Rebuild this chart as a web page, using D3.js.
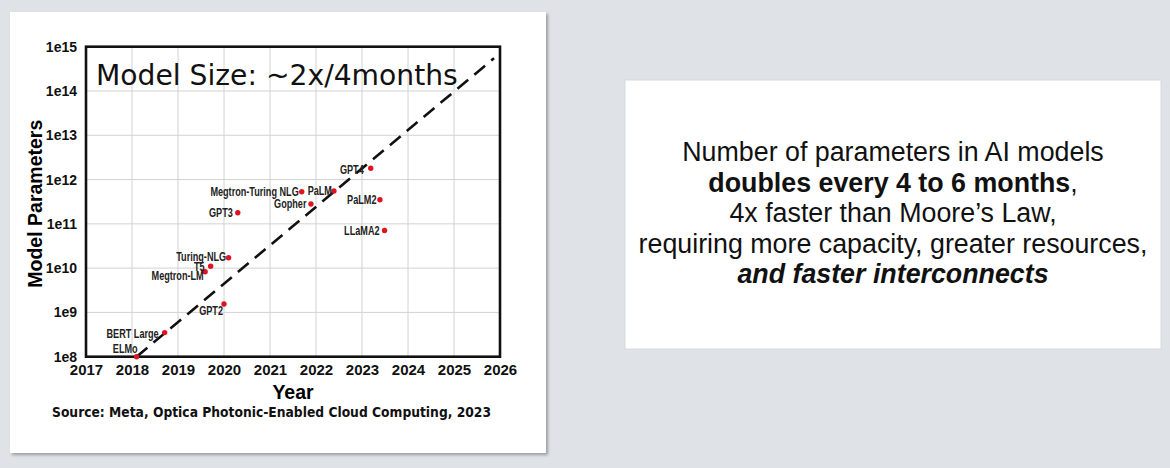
<!DOCTYPE html>
<html lang="en">
<head>
    <meta charset="UTF-8">
    <title>Model Size</title>
    <style>
        body { margin: 0; background: #dfe2e6; }
        svg { display: block; }
        .grid line { stroke: #d2d2d2; stroke-width: 1px; }
        .axis text { font-family: "Liberation Sans", Arial, sans-serif; font-weight: bold; fill: #111; }
        .axis path, .axis line { display: none; }
        .pt-label { font-family: "Liberation Sans", Arial, sans-serif; font-weight: bold; font-size: 12px; fill: #222; text-anchor: end; }
        .blurb { font-family: "Liberation Sans", Arial, sans-serif; font-size: 26.8px; fill: #111; text-anchor: middle; }
    </style>
</head>
<body>
    <script src="https://d3js.org/d3.v7.min.js"></script>
    <script>
        // data
        const models = ["ELMo", "BERT Large", "GPT2", "Megtron-LM", "T5", "Turing-NLG", "GPT3",
            "Megtron-Turing NLG", "Gopher", "PaLM", "GPT4", "PaLM2", "LLaMA2"];
        const releaseYear = [2018.10, 2018.71, 2020.0, 2019.59, 2019.71, 2020.1, 2020.3,
            2021.69, 2021.89, 2022.39, 2023.19, 2023.39, 2023.49];
        const paramCount = [1e8, 3.5e8, 1.55e9, 8.3e9, 1.1e10, 1.72e10, 1.78e11,
            5.3e11, 2.8e11, 5.5e11, 1.8e12, 3.5e11, 7.1e10];
        const trendYear = [2018.1, 2025.87];
        const trendParams = [1e8, 5.5e14];
        const yearTicks = [2017, 2018, 2019, 2020, 2021, 2022, 2023, 2024, 2025, 2026];
        const paramTicks = [1e8, 1e9, 1e10, 1e11, 1e12, 1e13, 1e14, 1e15];
        const blurbLines = [
            [{ t: "Number of parameters in AI models" }],
            [{ t: "doubles every 4 to 6 months", b: true }, { t: "," }],
            [{ t: "4x faster than Moore\u2019s Law," }],
            [{ t: "requiring more capacity, greater resources," }],
            [{ t: "and faster interconnects", b: true, i: true }]
        ];

        // small hand nudges so labels sit where they did in the original
        const labelNudge = {
            "ELMo": [1, -8], "BERT Large": [-6, 1], "GPT2": [-1, 7], "Megtron-LM": [-1.5, 4],
            "T5": [-6, 0], "Turing-NLG": [-2.5, -1.5], "GPT3": [-5, 0], "Megtron-Turing NLG": [-3, 0],
            "Gopher": [-4.5, 0], "PaLM": [-2, 0], "GPT4": [-7, 1], "PaLM2": [-3.5, 0], "LLaMA2": [-5, 0]
        };

        const width = 1170, height = 468;

        const svg = d3.select("body").append("svg")
            .attr("width", width)
            .attr("height", height);

        const defs = svg.append("defs");
        defs.append("filter").attr("id", "shadow")
            .append("feGaussianBlur").attr("stdDeviation", 1.5);

        // left card
        svg.append("rect").attr("x", 12).attr("y", 14).attr("width", 536).attr("height", 441)
            .attr("fill", "#9a9da1").attr("filter", "url(#shadow)");
        svg.append("rect").attr("x", 10).attr("y", 12).attr("width", 536).attr("height", 441)
            .attr("fill", "#fff");

        // right card
        svg.append("rect").attr("x", 625).attr("y", 80).attr("width", 536).attr("height", 269)
            .attr("fill", "#fff").attr("stroke", "#d6d9dc").attr("stroke-width", 1);

        const plot = { left: 86, right: 500, top: 46.7, bottom: 356.7 };

        const x = d3.scaleLinear().domain([2017, 2026]).range([plot.left, plot.right]);
        const y = d3.scaleLog().domain([1e8, 1e15]).range([plot.bottom, plot.top]);

        const grid = svg.append("g").attr("class", "grid");
        grid.selectAll(".gx").data(yearTicks).enter().append("line")
            .attr("x1", d => x(d)).attr("x2", d => x(d))
            .attr("y1", plot.top).attr("y2", plot.bottom);
        grid.selectAll(".gy").data(paramTicks).enter().append("line")
            .attr("x1", plot.left).attr("x2", plot.right)
            .attr("y1", d => y(d)).attr("y2", d => y(d));

        // title inside the plot
        svg.append("text")
            .attr("x", 96).attr("y", 85)
            .style("font-family", "'DejaVu Sans', Verdana, sans-serif")
            .style("font-size", "28.2px")
            .attr("fill", "#111")
            .text("Model Size: ~2x/4months");

        // trend line
        const trend = trendYear.map((yr, i) => [yr, trendParams[i]]);
        svg.append("path")
            .datum(trend)
            .attr("fill", "none")
            .attr("stroke", "#111")
            .attr("stroke-width", 2.6)
            .attr("stroke-dasharray", "14,8")
            .attr("d", d3.line().x(d => x(d[0])).y(d => y(d[1])));

        // frame
        svg.append("rect")
            .attr("x", plot.left).attr("y", plot.top)
            .attr("width", plot.right - plot.left).attr("height", plot.bottom - plot.top)
            .attr("fill", "none").attr("stroke", "#111").attr("stroke-width", 2.6);

        // axes
        svg.append("g").attr("class", "axis")
            .attr("transform", `translate(0,${plot.bottom})`)
            .call(d3.axisBottom(x).tickValues(yearTicks).tickFormat(d3.format("d")).tickSize(0).tickPadding(8))
            .selectAll("text").style("font-size", "15px");

        svg.append("g").attr("class", "axis")
            .attr("transform", `translate(${plot.left},0)`)
            .call(d3.axisLeft(y).tickValues(paramTicks)
                .tickFormat(d => "1e" + Math.round(Math.log10(d))).tickSize(0).tickPadding(9))
            .selectAll("text").style("font-size", "14px");

        svg.append("text")
            .attr("x", (plot.left + plot.right) / 2).attr("y", 399)
            .attr("text-anchor", "middle")
            .style("font-family", "'Liberation Sans', Arial, sans-serif")
            .style("font-weight", "bold").style("font-size", "19.5px")
            .text("Year");

        svg.append("text")
            .attr("transform", `translate(42,${(plot.top + plot.bottom) / 2 + 2}) rotate(-90)`)
            .attr("text-anchor", "middle")
            .style("font-family", "'Liberation Sans', Arial, sans-serif")
            .style("font-weight", "bold").style("font-size", "19.5px")
            .text("Model Parameters");

        svg.append("text")
            .attr("x", 52).attr("y", 417)
            .attr("textLength", 439).attr("lengthAdjust", "spacingAndGlyphs")
            .style("font-family", "'DejaVu Sans', Verdana, sans-serif")
            .style("font-weight", "bold").style("font-size", "13.5px")
            .attr("fill", "#111")
            .text("Source: Meta, Optica Photonic-Enabled Cloud Computing, 2023");

        // models
        const pts = models.map((m, i) => ({ name: m, year: releaseYear[i], params: paramCount[i] }));

        svg.append("g").selectAll("circle").data(pts).enter().append("circle")
            .attr("cx", d => x(d.year))
            .attr("cy", d => y(d.params))
            .attr("r", 2.7)
            .attr("fill", "#e0141e");

        // narrow labels: squeeze Liberation Sans horizontally
        svg.append("g").selectAll("text").data(pts).enter().append("text")
            .attr("class", "pt-label")
            .attr("transform", d => `translate(${x(d.year) + labelNudge[d.name][0]},${y(d.params) + labelNudge[d.name][1]}) scale(0.76,1)`)
            .attr("dy", "0.36em")
            .text(d => d.name);

        // right-hand text
        const blurbBase = [160.7, 191.7, 221.7, 252.7, 283.3];
        const blurb = svg.append("g");
        blurbLines.forEach((parts, i) => {
            const t = blurb.append("text").attr("class", "blurb")
                .attr("x", 893).attr("y", blurbBase[i]);
            parts.forEach(p => {
                t.append("tspan")
                    .style("font-weight", p.b ? "bold" : "normal")
                    .style("font-style", p.i ? "italic" : "normal")
                    .text(p.t);
            });
        });
    </script>
</body>
</html>
